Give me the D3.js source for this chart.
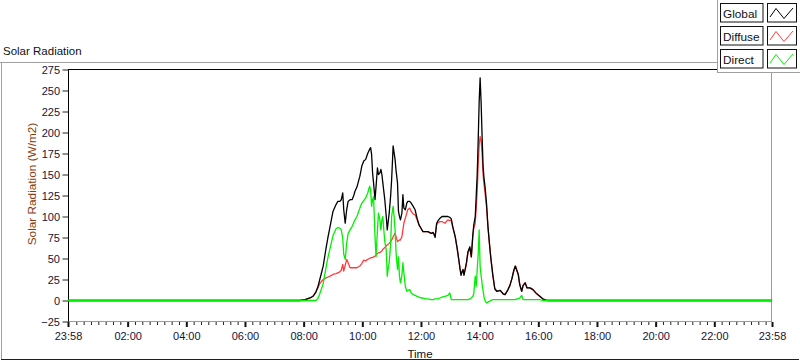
<!DOCTYPE html>
<html><head><meta charset="utf-8">
<script src="https://cdn.jsdelivr.net/npm/d3@7"></script>
<style>body{margin:0;background:#fff}svg{display:block}</style>
</head><body><svg id="c" width="800" height="361"></svg>
<script>
const times = ["23:58","07:52","08:03","08:13","08:19","08:25","08:29","08:33","08:40","08:46","08:50","08:54","09:00","09:06","09:10","09:14","09:17","09:20","09:22","09:25","09:28","09:31","09:35","09:39","09:42","09:45","09:49","09:55","09:59","10:03","10:07","10:11","10:15","10:17","10:19","10:21","10:23","10:26","10:28","10:31","10:33","10:36","10:38","10:40","10:42","10:44","10:46","10:49","10:51","10:53","10:55","10:58","11:00","11:02","11:03","11:05","11:07","11:09","11:12","11:14","11:16","11:18","11:21","11:23","11:25","11:28","11:31","11:33","11:37","11:40","11:44","11:48","11:52","11:56","12:00","12:04","12:08","12:14","12:21","12:25","12:29","12:32","12:35","12:39","12:43","12:49","12:55","12:59","13:02","13:05","13:10","13:14","13:17","13:20","13:22","13:24","13:26","13:28","13:30","13:33","13:36","13:40","13:43","13:46","13:48","13:51","13:53","13:55","13:57","13:59","14:01","14:03","14:05","14:07","14:09","14:11","14:14","14:17","14:20","14:23","14:27","14:31","14:35","14:42","14:48","14:52","14:58","15:02","15:06","15:10","15:13","15:16","15:19","15:22","15:26","15:29","15:33","15:37","15:43","15:49","15:55","16:03","16:09","16:18","23:58"];
const globalRad = [0,0,1,3,5,10,16,25,41,63,76,88,106,114,118,118,120,128,108,92,108,118,120,120,124,130,135,148,160,166,168,175,180,182,174,152,140,120,135,158,150,152,156,150,140,130,120,100,84,94,104,125,144,170,184,176,168,155,140,106,100,96,104,126,110,108,116,118,118,116,112,108,98,90,86,82,82,82,80,81,75,92,95,98,100,100,100,99,97,88,76,62,50,37,30,34,37,30,36,45,58,64,52,78,90,100,125,150,190,236,265,236,196,160,145,136,116,88,68,50,30,14,11,12,8,7,13,18,26,36,41,36,31,19,11,18,21,15,15,13,9,5,2,0,0];
const diffuseRad = [0,0,1,3,5,10,15,20,25,27,28,29,31,32,33,34,36,43,35,42,49,45,39,39,39,39,39,41,44,48,47,49,50,51,51,51,52,53,54,56,57,57,58,59,61,62,63,65,66,67,68,70,72,74,76,78,80,76,70,71,72,72,76,84,92,98,104,108,110,106,103,102,96,90,86,82,82,82,80,80,78,90,93,94,94,92,96,95,95,87,76,62,50,38,32,34,36,33,36,44,56,62,52,76,86,92,110,130,160,185,195,190,175,150,138,128,112,88,68,50,30,14,11,12,8,7,13,18,26,36,41,36,31,19,11,18,21,15,15,13,9,5,2,0,0];
const directRad = [0,0,0,0,0,0,2,8,20,40,52,62,77,85,87,86,84,74,55,49,68,80,84,88,92,96,100,110,116,119,122,128,136,132,112,120,124,76,52,84,104,96,84,96,100,84,70,60,29,38,45,68,100,108,112,100,84,57,37,52,29,21,30,45,33,17,11,12,13,9,7,6,5,4,3,3,2,2,1,1,2,2,2,3,4,5,6,9,1,1,1,1,1,1,1,1,1,1,1,1,1,2,3,5,8,29,17,37,55,84,40,30,20,12,4,0,-3,-2,-1,0,1,1,1,1,1,1,1,1,1,1,1,2,2,3,6,1,1,1,1,1,1,1,0,0,0];
const seriesNames = ["Global","Diffuse","Direct"];
const seriesColors = ["#000000","#ff3c3c","#00f000"];
const drawOrder = [1, 0, 2];
const xTickLabels = ["23:58","02:00","04:00","06:00","08:00","10:00","12:00","14:00","16:00","18:00","20:00","22:00","23:58"];
const yTicks = [-25,0,25,50,75,100,125,150,175,200,225,250,275];

const svg = d3.select("#c");
const FONT = "'Liberation Sans', Arial, sans-serif";
const toMin = (s, i) => {
  const [h, m] = s.split(":").map(Number);
  let t = h * 60 + m;
  if (i === 0 && t > 720) t -= 1440;
  return t;
};
const tMin = times.map((s, i) => toMin(s, i));
const xTickVals = xTickLabels.map((s, i) => toMin(s, i));

const L = 68, R = 772, T = 69.5, B = 321.5;
const x = d3.scaleLinear().domain([xTickVals[0], xTickVals[xTickVals.length - 1]]).range([L, R]);
const y = d3.scaleLinear().domain([yTicks[0], yTicks[yTicks.length - 1]]).range([B, T]);

// outer panel
svg.append("line").attr("x1",0).attr("x2",717).attr("y1",62.5).attr("y2",62.5).attr("stroke","#a0a0a0");
svg.append("line").attr("x1",1.5).attr("x2",1.5).attr("y1",62).attr("y2",360).attr("stroke","#a0a0a0");
svg.append("line").attr("x1",1).attr("x2",799).attr("y1",359.5).attr("y2",359.5).attr("stroke","#202020");

svg.append("text").attr("x",3).attr("y",55).attr("font-family",FONT).attr("font-size",11.5)
  .attr("fill","#111").text("Solar Radiation");

// clip
svg.append("defs").append("clipPath").attr("id","clip").append("rect")
  .attr("x",L).attr("y",T).attr("width",R-L).attr("height",B-T);

// frame
svg.append("line").attr("x1",L).attr("x2",R).attr("y1",T).attr("y2",T).attr("stroke","#000");
svg.append("line").attr("x1",R-0.5).attr("x2",R-0.5).attr("y1",T).attr("y2",B).attr("stroke","#9a9a9a");
svg.append("line").attr("x1",L).attr("x2",R).attr("y1",B).attr("y2",B).attr("stroke","#9a9a9a");

// y axis
const ya = svg.append("g").attr("transform",`translate(${L+0.5},0)`)
  .call(d3.axisLeft(y).tickValues(yTicks).tickSize(6).tickPadding(2.5));
ya.select(".domain").attr("stroke","#000").attr("d",`M0,${T}V${B}`);
ya.selectAll(".tick line").attr("stroke","#222");
ya.selectAll(".tick text").attr("font-family",FONT).attr("font-size",11).attr("fill","#14143a");

// x axis minor ticks
const minorVals = d3.range(15, xTickVals[xTickVals.length-1], 15).filter(v => v % 120 !== 0);
const xm = svg.append("g").attr("transform",`translate(0,${B+0.5})`)
  .call(d3.axisBottom(x).tickValues(minorVals).tickSize(3).tickFormat(""));
xm.select(".domain").remove();
xm.selectAll(".tick line").attr("stroke","#222");
const xa = svg.append("g").attr("transform",`translate(0,${B+0.5})`)
  .call(d3.axisBottom(x).tickValues(xTickVals).tickSize(5).tickPadding(5).tickFormat((d,i)=>xTickLabels[i]));
xa.select(".domain").remove();
xa.selectAll(".tick line").attr("stroke","#111").attr("stroke-width",2);
xa.selectAll(".tick text").attr("font-family",FONT).attr("font-size",11).attr("fill","#14143a");

svg.append("text").attr("x",(L+R)/2).attr("y",358).attr("text-anchor","middle")
  .attr("font-family",FONT).attr("font-size",11.5).attr("fill","#111").text("Time");
svg.append("text").attr("transform",`translate(36,${184}) rotate(-90)`).attr("text-anchor","middle")
  .attr("font-family",FONT).attr("font-size",11.8).attr("fill","#8b3a0a").text("Solar Radiation (W/m2)");

// series
const seriesData = [globalRad, diffuseRad, directRad];
const line = d3.line().x((d,i)=>x(tMin[i])).y(d=>y(d));
const gl = svg.append("g").attr("clip-path","url(#clip)");
drawOrder.forEach(k => {
  gl.append("path").attr("d", line(seriesData[k])).attr("fill","none")
    .attr("stroke", seriesColors[k]).attr("stroke-width", 1.3).attr("stroke-linejoin","round");
});

// legend
const lg = svg.append("g");
lg.append("rect").attr("x",717).attr("y",0).attr("width",83).attr("height",72).attr("fill","#fff");
lg.append("line").attr("x1",717.5).attr("x2",717.5).attr("y1",0).attr("y2",72).attr("stroke","#a0a0a0");
lg.append("line").attr("x1",717).attr("x2",800).attr("y1",72.5).attr("y2",72.5).attr("stroke","#a0a0a0");
seriesNames.forEach((name, k) => {
  const yy = 3.5 + k * 23;
  lg.append("rect").attr("x",720.5).attr("y",yy).attr("width",42.5).attr("height",18.5)
    .attr("fill","#fff").attr("stroke","#111");
  lg.append("text").attr("x",723).attr("y",yy+14).attr("font-family",FONT).attr("font-size",11.8)
    .attr("fill","#111").text(name);
  lg.append("rect").attr("x",767.5).attr("y",yy).attr("width",29).attr("height",18.5)
    .attr("fill","#fff").attr("stroke","#111");
  const pts = [[770,yy+13.5],[776,yy+5],[784,yy+15],[793,yy+4.5]];
  lg.append("path").attr("d", d3.line()(pts)).attr("fill","none")
    .attr("stroke", seriesColors[k]).attr("stroke-width",1);
});
</script></body></html>
